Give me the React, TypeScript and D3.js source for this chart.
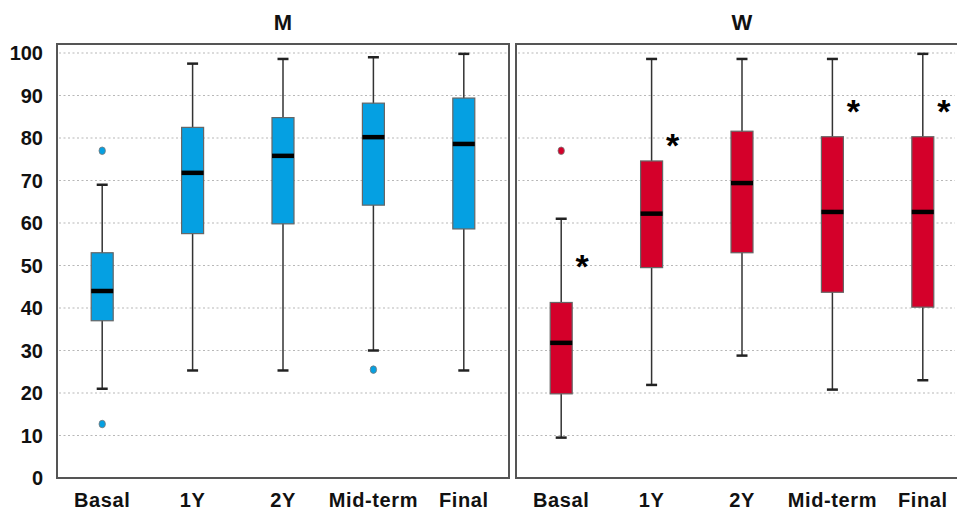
import React from "react";
import * as d3 from "d3";

const categories = ["Basal", "1Y", "2Y", "Mid-term", "Final"];
const yTicks = [0, 10, 20, 30, 40, 50, 60, 70, 80, 90, 100];

// [whiskerLow, q1, median, q3, whiskerHigh]
const menStats = [
  [21, 37, 44, 53, 69],
  [25.3, 57.5, 71.8, 82.5, 97.5],
  [25.3, 59.8, 75.8, 84.8, 98.6],
  [30, 64.2, 80.2, 88.2, 99],
  [25.3, 58.6, 78.6, 89.4, 99.8],
];
const menOutliers = [[77, 12.7], [], [], [25.5], []];

const womenStats = [
  [9.5, 19.8, 31.8, 41.3, 61],
  [21.9, 49.5, 62.2, 74.6, 98.6],
  [28.8, 53, 69.4, 81.6, 98.6],
  [20.8, 43.7, 62.6, 80.3, 98.6],
  [23, 40.2, 62.6, 80.3, 99.8],
];
const womenOutliers = [[77], [], [], [], []];
const womenStars = [51, 79.5, null, 87.5, 87.5];

const W = 957;
const H = 510;
const top = 53;
const bottom = 478;

const panels = [
  { title: "M", x0: 57, x1: 509, stats: menStats, outliers: menOutliers, color: "#05a0e2", stars: [null, null, null, null, null] },
  { title: "W", x0: 516, x1: 968, stats: womenStats, outliers: womenOutliers, color: "#d4002a", stars: womenStars },
];

export default function App() {
  const y = d3.scaleLinear().domain([0, 100]).range([bottom, top]);
  const boxW = 22;
  const capW = 11;
  return (
    <svg width={W} height={H} style={{ position: "absolute", left: 0, top: 0, background: "#fff" }} fontFamily="Arial, Liberation Sans, sans-serif">
      {yTicks.map((t) => (
        <text key={t} x={43} y={y(t)} dy="0.36em" textAnchor="end" fontSize={20} fontWeight="bold" fill="#111">{t}</text>
      ))}
      {panels.map((p, pi) => {
        const x = d3.scaleBand().domain(categories).range([p.x0, p.x1]);
        const cx = (c: string) => (x(c) as number) + x.bandwidth() / 2;
        return (
          <g key={pi}>
            <text x={(p.x0 + p.x1) / 2} y={30} textAnchor="middle" fontSize={22} fontWeight="bold" fill="#111">{p.title}</text>
            {yTicks.filter((t) => t > 0).map((t) => (
              <line key={t} x1={p.x0 + 2} x2={Math.min(p.x1, W) - 2} y1={y(t)} y2={y(t)} stroke="#b8b8b8" strokeWidth={1.2} strokeDasharray="2,2.5" />
            ))}
            <rect x={p.x0} y={44} width={p.x1 - p.x0} height={bottom - 44} fill="none" stroke="#555" strokeWidth={2} />
            {categories.map((c, i) => {
              const [lo, q1, med, q3, hi] = p.stats[i];
              const xc = cx(c);
              return (
                <g key={c}>
                  <line x1={xc} x2={xc} y1={y(hi)} y2={y(lo)} stroke="#333" strokeWidth={1.5} />
                  <line x1={xc - capW / 2} x2={xc + capW / 2} y1={y(hi)} y2={y(hi)} stroke="#222" strokeWidth={2.5} />
                  <line x1={xc - capW / 2} x2={xc + capW / 2} y1={y(lo)} y2={y(lo)} stroke="#222" strokeWidth={2.5} />
                  <rect x={xc - boxW / 2} y={y(q3)} width={boxW} height={y(q1) - y(q3)} fill={p.color} stroke="#666" strokeWidth={1.2} />
                  <line x1={xc - boxW / 2} x2={xc + boxW / 2} y1={y(med)} y2={y(med)} stroke="#000" strokeWidth={4.5} />
                  {p.outliers[i].map((o, k) => (
                    <ellipse key={k} cx={xc} cy={y(o)} rx={3.2} ry={3.8} fill={p.color} stroke="#777" strokeWidth={0.8} />
                  ))}
                  {p.stars[i] != null && (
                    <text x={xc + 21} y={y(p.stars[i] as number)} dy="0.5em" textAnchor="middle" fontSize={34} fontWeight="bold" fill="#000">*</text>
                  )}
                  <text x={xc} y={507} textAnchor="middle" fontSize={20} fontWeight="bold" letterSpacing={0.6} fill="#111">{c}</text>
                </g>
              );
            })}
          </g>
        );
      })}
    </svg>
  );
}
